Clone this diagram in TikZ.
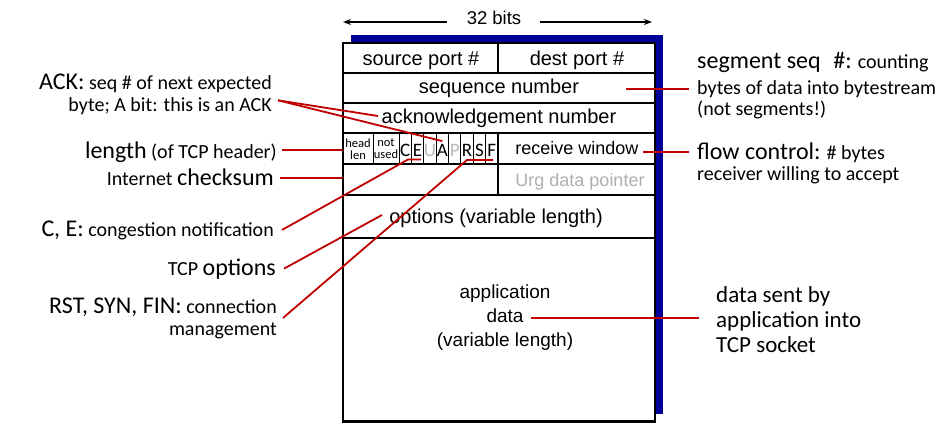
\documentclass[tikz,border=0pt]{standalone}
\usepackage{fontspec}
\setmainfont{Carlito}
\newfontfamily\arialf{Liberation Sans}
\usetikzlibrary{calc,arrows.meta}
\definecolor{shadowblue}{RGB}{0,0,150}
\definecolor{annred}{RGB}{192,0,0}
\definecolor{flaggray}{RGB}{185,185,185}
\definecolor{urggray}{RGB}{175,175,175}
\newcommand{\annbig}{\fontsize{24}{21}\selectfont}
\tikzset{
  fieldtxt/.style={font=\arialf\fontsize{20}{22}\selectfont, inner sep=0pt, text height=14.5pt, text depth=4pt},
  smallfield/.style={font=\arialf\fontsize{18}{20}\selectfont, inner sep=0pt, text height=13pt, text depth=3.6pt},
  flagtxt/.style={font=\fontsize{19}{19}\selectfont, inner sep=0pt},
  tinytxt/.style={font=\fontsize{12.5}{12}\selectfont, inner sep=0pt, align=center},
  annot/.style={font=\fontsize{20}{21}\selectfont, inner sep=0pt},
  redline/.style={draw=annred, line width=1.8pt},
  rowline/.style={line width=2pt},
  thinline/.style={line width=0.9pt},
  bitsarrow/.style={line width=1.4pt, -{Stealth[length=8pt,width=6pt]}},
}
\begin{document}
\begin{tikzpicture}[x=1pt,y=-1pt]
\useasboundingbox (0,0) rectangle (949,423);
\fill[white] (0,0) rectangle (949,423);

% 32 bits
\node[font=\arialf\fontsize{18.5}{20}\selectfont, inner sep=0pt, anchor=base] (bits) at (494,24) {32 bits};
\coordinate (bitsLi) at (447,22);
\coordinate (bitsL) at (343,22);
\coordinate (bitsRi) at (540,22);
\coordinate (bitsR) at (652,22);
\draw[bitsarrow] (bitsLi) -- (bitsL);
\draw[bitsarrow] (bitsRi) -- (bitsR);

% segment box with shadow
\fill[shadowblue] (351,35) rectangle (663,414);
\draw[line width=2.5pt, fill=white] (343,43) rectangle (655,421.5);
\coordinate (boxW) at (343,0);
\foreach \y in {73,103,133,164,195,238} \draw[rowline] (343,\y) -- (655,\y);
\draw[line width=1.5pt] (498,43) -- (498,73);
\draw[rowline] (498,133) -- (498,195);
\foreach \x in {373,399,411.375,423.75,436.125,448.5,460.875,473.25,485.625}
  \draw[thinline] (\x,133) -- (\x,164);

% field texts
\node[fieldtxt] (src) at (421,60) {source port \#};
\node[fieldtxt] (dst) at (577,60) {dest port \#};
\node[fieldtxt] (seqn) at (499,88) {sequence number};
\node[fieldtxt] (ackn) at (499,118) {acknowledgement number};
\node[smallfield] (rwinT) at (577,150) {receive window};
\node[smallfield, text=urggray] (urg) at (580,182) {Urg data pointer};
\node[fieldtxt] (opts) at (496,218) {options (variable length)};
\node[font=\arialf\fontsize{19}{24}\selectfont, align=center, inner sep=0pt] (app) at (505,318) {application\\data\\(variable length)};

% flag row
\node[tinytxt] (hlen) at (358,149) {head\\len};
\node[tinytxt] (nused) at (386,149) {not\\used};
\foreach \L/\c [count=\i from 0] in {C/black,E/black,U/flaggray,A/black,P/flaggray,R/black,S/black,F/black}
  \node[flagtxt, text=\c, anchor=base] (flag\L) at ({399+12.375*(\i+0.5)},156.5) {\L};

% left annotations (multi-line nodes: base = last line)
\node[annot, anchor=base east, align=right] (ack) at (272,111) {{\annbig ACK:} seq \# of next expected\\[1pt]byte; A bit: this is an ACK};
\node[annot, anchor=base east] (len) at (277,158) {{\annbig length} (of TCP header)};
\node[annot, anchor=base east] (cks) at (274,185) {Internet {\annbig checksum}};
\node[annot, anchor=base east] (ce) at (274,236) {{\annbig C, E:} congestion notification};
\node[annot, anchor=base east] (opt) at (276,275) {TCP {\annbig options}};
\node[annot, anchor=base east, align=right] (rst) at (277,335) {{\annbig RST, SYN, FIN:} connection\\[1pt]management};

% right annotations
\node[annot, anchor=base west, align=left] (seg) at (697,115) {{\annbig segment seq\hspace{0.3em} \#:} counting\\[5pt]bytes of data into bytestream\\(not segments!)};
\node[annot, anchor=base west, align=left] (flow) at (697,180) {{\annbig flow control:} \# bytes\\receiver willing to accept};
\node[font=\fontsize{23}{25}\selectfont, inner sep=0pt, anchor=base west, align=left] (sent) at (716,352) {data sent by\\application into\\TCP socket};

% connector end points
\coordinate (ackT) at (378,116);
\coordinate (ceA) at (408,159.5);
\coordinate (ceB) at (421,159.5);
\coordinate (optT) at (382,215);
\coordinate (rsfA) at (467,160);
\coordinate (rsfB) at (493,160);
\coordinate (seqpt) at (626,89);
\coordinate (rwin) at (643,152);
\coordinate (appd) at (531,318);
\coordinate (lenP) at ([xshift=5pt,yshift=2pt]len.east);
\coordinate (cksP) at ([xshift=6pt,yshift=-1pt]cks.east);

% red connectors
\draw[redline] ([xshift=6pt,yshift=-6.5pt]ack.east) -- (ackT);
\draw[redline] ([xshift=6pt,yshift=-6.5pt]ack.east) -- ([yshift=3pt]flagA.north);
\draw[redline] (lenP) -- (lenP -| boxW);
\draw[redline] (cksP) -- (cksP -| boxW);
\draw[redline] ([xshift=8pt]ce.east) -- (ceA) -- (ceB);
\draw[redline] ([xshift=8pt]opt.east) -- (optT);
\draw[redline] ([xshift=6pt]rst.east) -- (rsfA) -- (rsfB);
\draw[redline, shorten >=8pt] (seqpt) -- (seqpt -| seg.west);
\draw[redline, shorten >=8pt] (rwin) -- (rwin -| flow.west);
\draw[redline, shorten >=17pt] (appd) -- (appd -| sent.west);
\end{tikzpicture}
\end{document}
